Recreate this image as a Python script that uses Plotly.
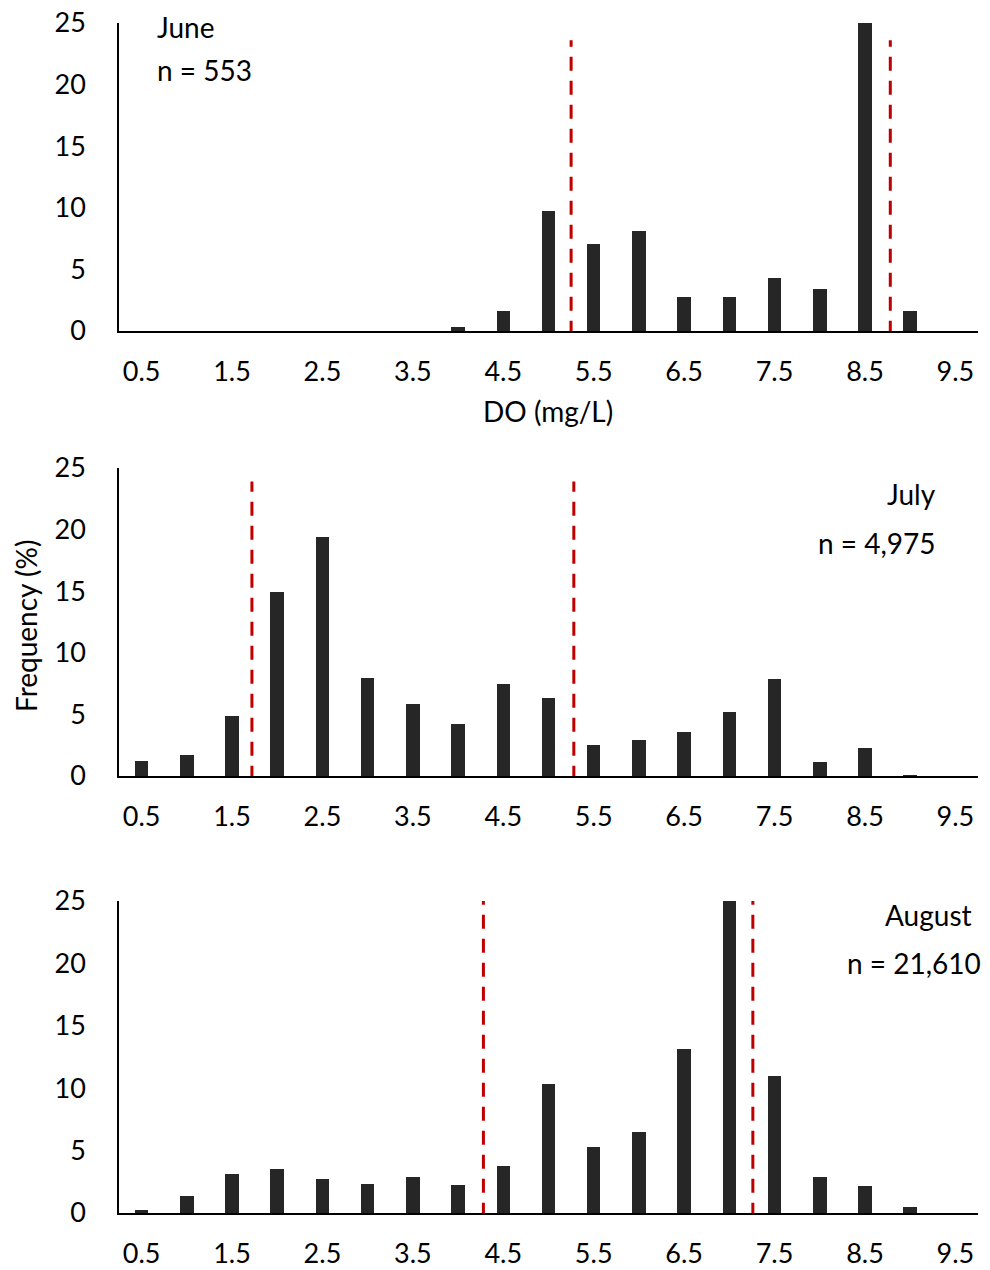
import plotly.graph_objects as go

do_bins = [0.5, 1.0, 1.5, 2.0, 2.5, 3.0, 3.5, 4.0, 4.5, 5.0, 5.5, 6.0, 6.5, 7.0, 7.5, 8.0, 8.5, 9.0, 9.5]
tick_vals = [0.5, 1.5, 2.5, 3.5, 4.5, 5.5, 6.5, 7.5, 8.5, 9.5]
tick_text = ["0.5", "1.5", "2.5", "3.5", "4.5", "5.5", "6.5", "7.5", "8.5", "9.5"]
y_ticks = [0, 5, 10, 15, 20, 25]

june = [0, 0, 0, 0, 0, 0, 0, 0.35, 1.6, 9.77, 7.03, 8.1, 2.73, 2.73, 4.33, 3.4, 25, 1.6, 0]
july = [1.19, 1.7, 4.84, 14.9, 19.4, 7.93, 5.87, 4.22, 7.44, 6.36, 2.54, 2.92, 3.54, 5.17, 7.9, 1.11, 2.3, 0.08, 0]
august = [0.21, 1.36, 3.09, 3.52, 2.69, 2.29, 2.85, 2.27, 3.79, 10.3, 5.31, 6.53, 13.15, 25, 11.0, 2.9, 2.13, 0.45, 0]

june_lines = [5.25, 8.78]
july_lines = [1.72, 5.28]
august_lines = [4.28, 7.26]
line_tops = [23.6, 23.9, 25]

months = ["June", "July", "August"]
n_labels = ["n = 553", "n = 4,975", "n = 21,610"]

# page body has an 8px margin; the figure is sized to fill the rest of the 990x1270 window
OFF = 8
W, H = 990 - OFF, 1270 - OFF
FONT = "Lato"
FS = 27
FA = 28
BAR = "#262626"
RED = "#C00000"


def px(x):
    return (x - OFF) / W


def py(y):
    return 1 - (y - OFF) / H


x_dom = [px(119), px(978)]
panels_px = [(23, 331), (468, 776), (901, 1213)]
y_doms = [[py(b), py(t)] for t, b in panels_px]

fig = go.Figure()
series = [june, july, august]
lines = [june_lines, july_lines, august_lines]

for i in range(3):
    xa = "x" if i == 0 else f"x{i+1}"
    ya = "y" if i == 0 else f"y{i+1}"
    fig.add_trace(go.Bar(x=do_bins, y=series[i], width=0.15, marker=dict(color=BAR, line=dict(width=0)),
                         xaxis=xa, yaxis=ya, showlegend=False))
    for xv in lines[i]:
        fig.add_trace(go.Scatter(x=[xv, xv], y=[-0.3, line_tops[i]], mode="lines",
                                 line=dict(color=RED, width=3, dash="14px,10px"),
                                 xaxis=xa, yaxis=ya, showlegend=False, cliponaxis=False))
    sfx = "" if i == 0 else str(i + 1)
    fig.layout["xaxis" + sfx] = dict(domain=x_dom, range=[0.25, 9.75], anchor=ya,
                                     tickmode="array", tickvals=tick_vals, ticktext=tick_text,
                                     showline=True, linecolor="black", linewidth=2,
                                     showgrid=False, zeroline=False, ticks="",
                                     automargin=False, ticklabelstandoff=16, ticklabeloverflow="allow",
                                     tickfont=dict(family=FONT, size=FS, color="black"))
    fig.layout["yaxis" + sfx] = dict(domain=y_doms[i], range=[0, 25], anchor=xa,
                                     tickmode="array", tickvals=y_ticks,
                                     showline=True, linecolor="black", linewidth=1.5,
                                     showgrid=False, zeroline=False, ticks="",
                                     automargin=False, ticklabelstandoff=26, ticklabeloverflow="allow",
                                     tickfont=dict(family=FONT, size=FS, color="black"))

ann = []
ann.append(dict(text=months[0], x=px(155), y=py(27), xanchor="left", yanchor="middle"))
ann.append(dict(text=n_labels[0], x=px(155), y=py(70), xanchor="left", yanchor="middle"))
ann.append(dict(text=months[1], x=px(938), y=py(494), xanchor="right", yanchor="middle"))
ann.append(dict(text=n_labels[1], x=px(938), y=py(543), xanchor="right", yanchor="middle"))
ann.append(dict(text=months[2], x=px(974), y=py(915), xanchor="right", yanchor="middle"))
ann.append(dict(text=n_labels[2], x=px(983), y=py(963), xanchor="right", yanchor="middle"))
ann.append(dict(text="DO (mg/L)", x=px(548), y=py(411), xanchor="center", yanchor="middle"))
ann.append(dict(text="Frequency (%)", x=px(26), y=py(626), xanchor="center", yanchor="middle", textangle=-90))

for a in ann:
    a.update(xref="paper", yref="paper", showarrow=False, font=dict(family=FONT, size=FA, color="black"))

fig.update_layout(width=W, height=H, margin=dict(l=0, r=0, t=0, b=0, autoexpand=False),
                  paper_bgcolor="white", plot_bgcolor="white", annotations=ann,
                  bargap=0, font=dict(family=FONT, size=FS, color="black"))

fig.write_html("out.html")
